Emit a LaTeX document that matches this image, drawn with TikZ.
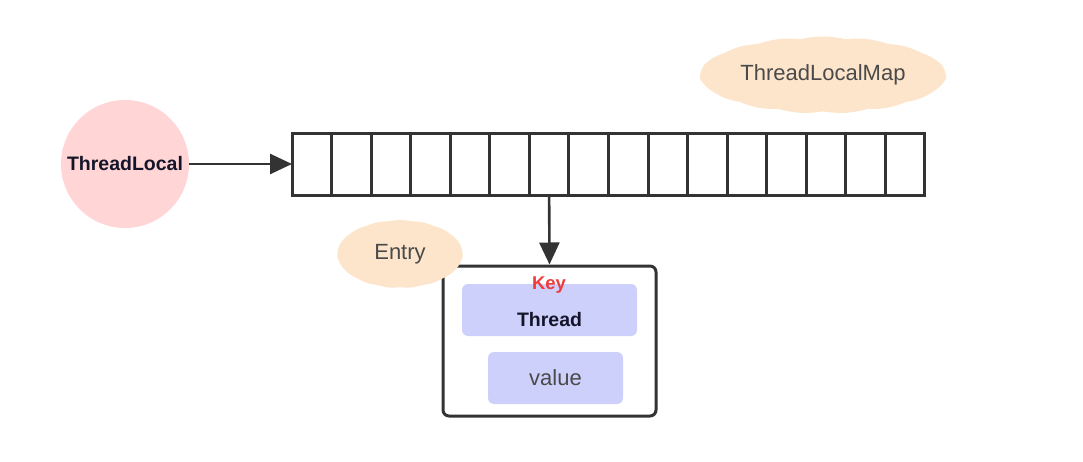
\documentclass[tikz,border=0pt]{standalone}
\usepackage{fontspec}
\setmainfont{Liberation Sans}
\usetikzlibrary{arrows.meta,shapes.symbols}
\definecolor{linec}{HTML}{333333}
\definecolor{circc}{HTML}{FFD5D5}
\definecolor{cloudc}{HTML}{FCE5CA}
\definecolor{bluec}{HTML}{CCD0FB}
\definecolor{keyc}{HTML}{EE3B3B}
\definecolor{txtc}{HTML}{4A4A4A}
\definecolor{boldc}{HTML}{15152A}
\begin{document}
\begin{tikzpicture}[x=1pt,y=-1pt,
  cell/.style={draw=linec,line width=3pt,minimum width=39.56pt,minimum height=62pt,inner sep=0pt,outer sep=0pt},
  arr/.style={draw=linec,line width=2.6pt,-{Triangle[length=22pt,width=20pt]}},
  blob/.style={cloud,cloud puffs=17,cloud puff arc=28,cloud ignores aspect,fill=cloudc,draw=none,inner sep=0pt,text=txtc,font=\fontsize{22}{24}\selectfont},
  inbox/.style={fill=bluec,draw=none,rounded corners=6pt,inner sep=0pt},
  boldtxt/.style={font=\fontsize{19.5}{21}\selectfont\bfseries,text=boldc}]
\useasboundingbox (0,0) rectangle (1083,462);
% ThreadLocal circle
\node[circle,fill=circc,minimum size=128pt,inner sep=0pt,boldtxt] (tl) at (125,164) {ThreadLocal};
% array cells
\foreach \i in {1,...,16}{
  \node[cell] (c\i) at ({292+(\i-0.5)*39.56},165) {};
}
\draw[arr] (tl.east) -- (tl.east -| c1.west);
% Entry box
\node[draw=linec,line width=3pt,rounded corners=6pt,minimum width=213pt,minimum height=150pt,inner sep=0pt] (entry) at (549.5,341) {};
\draw[arr] (c7.south) -- (entry.north);
\node[inbox,minimum width=175pt,minimum height=52pt] (keybox) at (549.5,310) {};
\node[font=\fontsize{18.5}{20}\selectfont\bfseries,text=keyc] (key) at (549,285) {Key};
\node[boldtxt] (thread) at (549.5,320) {Thread};
\node[inbox,minimum width=135pt,minimum height=52pt,text=txtc,font=\fontsize{22}{24}\selectfont] (val) at (555.5,378) {value};
% clouds
\node[blob,minimum width=125pt,minimum height=68pt] (entrycl) at (400,254) {Entry};
\node[blob,minimum width=245pt,minimum height=77pt] (mapcl) at (823,75) {ThreadLocalMap};
\end{tikzpicture}
\end{document}
